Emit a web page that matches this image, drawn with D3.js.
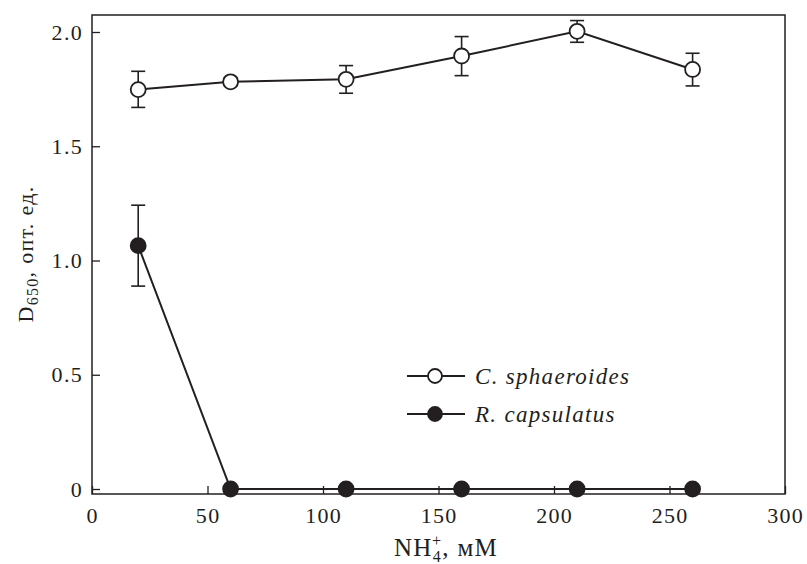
<!DOCTYPE html>
<html>
<head>
<meta charset="utf-8">
<script src="https://cdn.jsdelivr.net/npm/d3@7"></script>
<style>
  body { margin: 0; background: #fff; }
  text { font-family: "Liberation Serif", "Times New Roman", serif; fill: #231f20; }
</style>
</head>
<body>
<svg id="chart" width="807" height="564"></svg>
<script>
// NH4+ concentration, mM
var conc = [20, 60, 110, 160, 210, 260];

// C. sphaeroides: mean and error bar ends
var sphMean = [1.748, 1.782, 1.793, 1.895, 2.003, 1.836];
var sphLow  = [1.670, 1.765, 1.732, 1.809, 1.955, 1.764];
var sphHigh = [1.828, 1.800, 1.853, 1.980, 2.050, 1.907];

// R. capsulatus: mean and error bar ends
var capMean = [1.065, 0, 0, 0, 0, 0];
var capLow  = [0.888, 0, 0, 0, 0, 0];
var capHigh = [1.242, 0, 0, 0, 0, 0];

var xTicks = [0, 50, 100, 150, 200, 250, 300];
var yTicks = [0, 0.5, 1.0, 1.5, 2.0];
var yTickLabels = ["0", "0.5", "1.0", "1.5", "2.0"];

var series = [
    {name: "C. sphaeroides", mean: sphMean, low: sphLow, high: sphHigh, fill: "#fff"},
    {name: "R. capsulatus", mean: capMean, low: capLow, high: capHigh, fill: "#231f20"}
];

var ink = "#231f20";
var fs = 22, ls = 1.3;
var svg = d3.select("#chart");

// frame is 92..785 x 15..494
var xScale = d3.scaleLinear().domain([0, 300]).range([92, 785]);
var yScale = d3.scaleLinear().domain([0, 2.0]).range([489, 32]);
var frameTop = 15, frameBottom = 494;

// axes, ticks pointing inward
var xAxis = d3.axisTop(xScale).tickValues(xTicks).tickSize(8).tickFormat("");
var yAxis = d3.axisRight(yScale).tickValues(yTicks).tickSize(8).tickFormat("");

svg.append("g")
    .attr("transform", "translate(0," + frameBottom + ")")
    .call(xAxis)
    .call(function(g) { g.select(".domain").remove(); })
    .selectAll("line").attr("stroke", ink).attr("stroke-width", 1.3);

svg.append("g")
    .attr("transform", "translate(" + xScale(0) + ",0)")
    .call(yAxis)
    .call(function(g) { g.select(".domain").remove(); })
    .selectAll("line").attr("stroke", ink).attr("stroke-width", 1.3);

// frame
svg.append("rect")
    .attr("x", xScale(0)).attr("y", frameTop)
    .attr("width", xScale(300) - xScale(0))
    .attr("height", frameBottom - frameTop)
    .attr("fill", "none").attr("stroke", ink).attr("stroke-width", 1.5);

// tick labels
svg.append("g").selectAll("text")
    .data(xTicks).enter().append("text")
    .attr("x", function(d) { return xScale(d) + ls / 2; })
    .attr("y", 523)
    .attr("text-anchor", "middle")
    .attr("font-size", fs)
    .attr("letter-spacing", ls)
    .text(function(d) { return d; });

svg.append("g").selectAll("text")
    .data(yTicks).enter().append("text")
    .attr("x", 83)
    .attr("y", function(d) { return yScale(d) + 7.5; })
    .attr("text-anchor", "end")
    .attr("font-size", fs)
    .attr("letter-spacing", ls)
    .text(function(d, i) { return yTickLabels[i]; });

// axis titles
var xt = svg.append("text")
    .attr("x", 446).attr("y", 556)
    .attr("text-anchor", "middle")
    .attr("font-size", 25)
    .attr("letter-spacing", ls);
xt.append("tspan").text("NH");
xt.append("tspan").attr("font-size", 16).attr("dy", 6).text("4");
xt.append("tspan").attr("font-size", 16).attr("dx", -10).attr("dy", -16).text("+");
xt.append("tspan").attr("dy", 10).text(", мМ");

var yt = svg.append("text")
    .attr("transform", "translate(33,254) rotate(-90)")
    .attr("text-anchor", "middle")
    .attr("font-size", fs)
    .attr("letter-spacing", ls);
yt.append("tspan").text("D");
yt.append("tspan").attr("font-size", 16).attr("dy", 5).text("650");
yt.append("tspan").attr("dy", -5).text(", опт. ед.");

var line = d3.line()
    .x(function(d) { return xScale(d[0]); })
    .y(function(d) { return yScale(d[1]); });

series.forEach(function(s) {
    var pts = conc.map(function(c, i) { return [c, s.mean[i], s.low[i], s.high[i]]; });
    var g = svg.append("g");

    g.append("path")
        .datum(pts)
        .attr("d", line)
        .attr("fill", "none")
        .attr("stroke", ink)
        .attr("stroke-width", 2);

    // error bars
    var eb = g.selectAll(".err").data(pts.filter(function(d) { return d[3] - d[2] > 0; }))
        .enter().append("g").attr("class", "err")
        .attr("stroke", ink).attr("stroke-width", 1.6);
    eb.append("line")
        .attr("x1", function(d) { return xScale(d[0]); })
        .attr("x2", function(d) { return xScale(d[0]); })
        .attr("y1", function(d) { return yScale(d[2]); })
        .attr("y2", function(d) { return yScale(d[3]); });
    [2, 3].forEach(function(k) {
        eb.append("line")
            .attr("x1", function(d) { return xScale(d[0]) - 7; })
            .attr("x2", function(d) { return xScale(d[0]) + 7; })
            .attr("y1", function(d) { return yScale(d[k]); })
            .attr("y2", function(d) { return yScale(d[k]); });
    });

    g.selectAll("circle").data(pts).enter().append("circle")
        .attr("cx", function(d) { return xScale(d[0]); })
        .attr("cy", function(d) { return yScale(d[1]); })
        .attr("r", 7.5)
        .attr("fill", s.fill)
        .attr("stroke", ink)
        .attr("stroke-width", 1.8);
});

// legend
var legend = svg.append("g").attr("transform", "translate(407,376)");
series.forEach(function(s, i) {
    var row = legend.append("g").attr("transform", "translate(0," + (i * 38) + ")");
    row.append("line")
        .attr("x1", 0).attr("x2", 58)
        .attr("stroke", ink).attr("stroke-width", 2);
    row.append("circle")
        .attr("cx", 28).attr("r", 7)
        .attr("fill", s.fill).attr("stroke", ink).attr("stroke-width", 1.8);
    row.append("text")
        .attr("x", 68).attr("y", 7.5)
        .attr("font-size", fs + 1)
        .attr("font-style", "italic")
        .attr("letter-spacing", ls)
        .text(s.name);
});
</script>
</body>
</html>
